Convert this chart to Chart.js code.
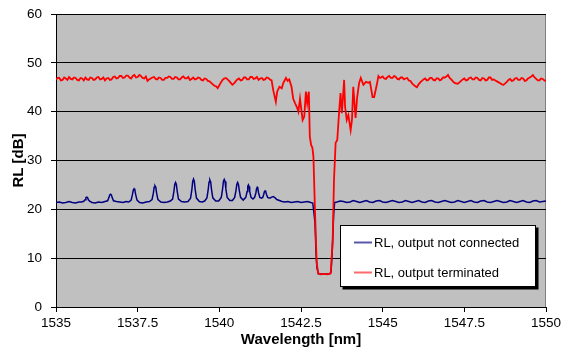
<!DOCTYPE html>
<html>
<head>
<meta charset="utf-8">
<script src="https://cdn.jsdelivr.net/npm/chart.js@4/dist/chart.umd.min.js"></script>
<style>
  html, body { margin: 0; padding: 0; background: #fff; }
  #wrap { width: 563px; height: 349px; }
</style>
</head>
<body>
<div id="wrap"><canvas id="rlChart" width="563" height="349"></canvas></div>
<script>
// series names
const seriesNames = ['RL, output not connected', 'RL, output terminated'];

// axis ticks
const xTickVals = [1535, 1537.5, 1540, 1542.5, 1545, 1547.5, 1550];
const xTickLabels = ['1535', '1537.5', '1540', '1542.5', '1545', '1547.5', '1550'];
const yTickVals = [0, 10, 20, 30, 40, 50, 60];

// RL, output terminated (red)
const redWl = [
  1535.00, 1535.05, 1535.10, 1535.15, 1535.20, 1535.25, 1535.30, 1535.35, 1535.40, 1535.45,
  1535.50, 1535.55, 1535.60, 1535.65, 1535.70, 1535.75, 1535.80, 1535.85, 1535.90, 1535.95,
  1536.00, 1536.05, 1536.10, 1536.15, 1536.20, 1536.25, 1536.30, 1536.35, 1536.40, 1536.45,
  1536.50, 1536.55, 1536.60, 1536.65, 1536.70, 1536.75, 1536.80, 1536.85, 1536.90, 1536.95,
  1537.00, 1537.05, 1537.10, 1537.15, 1537.20, 1537.25, 1537.30, 1537.35, 1537.40, 1537.45,
  1537.50, 1537.55, 1537.60, 1537.65, 1537.70, 1537.75, 1537.80, 1537.85, 1537.90, 1537.95,
  1538.00, 1538.05, 1538.10, 1538.15, 1538.20, 1538.25, 1538.30, 1538.35, 1538.40, 1538.45,
  1538.50, 1538.55, 1538.60, 1538.65, 1538.70, 1538.75, 1538.80, 1538.85, 1538.90, 1538.95,
  1539.00, 1539.05, 1539.10, 1539.15, 1539.20, 1539.25, 1539.30, 1539.35, 1539.40, 1539.45,
  1539.50, 1539.55, 1539.60, 1539.65, 1539.70, 1539.75, 1539.80, 1539.85, 1539.90, 1539.95,
  1540.00, 1540.05, 1540.10, 1540.15, 1540.20, 1540.25, 1540.30, 1540.35, 1540.40, 1540.45,
  1540.50, 1540.55, 1540.60, 1540.65, 1540.70, 1540.75, 1540.80, 1540.85, 1540.90, 1540.95,
  1541.00, 1541.05, 1541.10, 1541.15, 1541.20, 1541.25, 1541.30, 1541.35, 1541.40, 1541.45,
  1541.50, 1541.55, 1541.60,
  1541.65, 1541.73, 1541.77, 1541.84, 1541.91, 1541.96, 1542.04, 1542.09, 1542.14, 1542.21,
  1542.26, 1542.32, 1542.37, 1542.42, 1542.47, 1542.50, 1542.55, 1542.60, 1542.65, 1542.69,
  1542.74, 1542.77, 1542.81, 1542.85, 1542.88, 1542.93, 1542.98, 1543.03, 1543.10, 1543.20,
  1543.30, 1543.41, 1543.47, 1543.51, 1543.56, 1543.61, 1543.67, 1543.71, 1543.75, 1543.78,
  1543.82, 1543.85, 1543.90, 1543.95, 1544.02, 1544.06, 1544.10, 1544.13, 1544.17, 1544.22,
  1544.28, 1544.33, 1544.41, 1544.49, 1544.56, 1544.61, 1544.69, 1544.74, 1544.82, 1544.87,
  1544.92,
  1544.95, 1545.00, 1545.05, 1545.10, 1545.15, 1545.20, 1545.25, 1545.30, 1545.35, 1545.40,
  1545.45, 1545.50, 1545.55, 1545.60, 1545.65, 1545.70, 1545.75, 1545.80, 1545.85, 1545.90,
  1545.95, 1546.00, 1546.05, 1546.10, 1546.15, 1546.20, 1546.25, 1546.30, 1546.35, 1546.40,
  1546.45, 1546.50, 1546.55, 1546.60, 1546.65, 1546.70, 1546.75, 1546.80, 1546.85, 1546.90,
  1546.95, 1547.00, 1547.05, 1547.10, 1547.15, 1547.20, 1547.25, 1547.30, 1547.35, 1547.40,
  1547.45, 1547.50, 1547.55, 1547.60, 1547.65, 1547.70, 1547.75, 1547.80, 1547.85, 1547.90,
  1547.95, 1548.00, 1548.05, 1548.10, 1548.15, 1548.20, 1548.25, 1548.30, 1548.35, 1548.40,
  1548.45, 1548.50, 1548.55, 1548.60, 1548.65, 1548.70, 1548.75, 1548.80, 1548.85, 1548.90,
  1548.95, 1549.00, 1549.05, 1549.10, 1549.15, 1549.20, 1549.25, 1549.30, 1549.35, 1549.40,
  1549.45, 1549.50, 1549.55, 1549.60, 1549.65, 1549.70, 1549.75, 1549.80, 1549.85, 1549.90,
  1549.95, 1550.00
];
const redRL = [
  46.6, 46.9, 46.9, 46.4, 46.5, 47.0, 46.8, 46.5, 47.1, 46.7,
  46.6, 47.0, 46.9, 46.5, 46.4, 46.9, 46.8, 46.4, 47.0, 46.6,
  46.5, 47.0, 46.9, 46.5, 46.6, 47.0, 47.1, 46.6, 46.7, 47.0,
  46.4, 46.8, 46.9, 46.5, 46.6, 47.1, 47.2, 46.8, 46.9, 47.3,
  47.3, 46.9, 47.0, 47.4, 47.4, 47.0, 46.8, 47.3, 47.5, 47.0,
  47.1, 47.5, 47.3, 46.9, 46.8, 47.2, 46.3, 46.6, 46.8, 47.0,
  47.1, 46.7, 46.6, 47.0, 46.9, 46.5, 46.5, 46.9, 46.9, 47.2,
  47.1, 46.7, 46.7, 47.1, 47.0, 46.6, 46.6, 47.0, 47.2, 46.8,
  46.8, 47.1, 46.5, 46.7, 47.0, 46.6, 46.7, 47.0, 46.9, 46.5,
  46.4, 46.8, 46.7, 46.3, 46.2, 45.9, 45.6, 45.3, 45.2, 44.8,
  45.4, 46.0, 46.5, 46.8, 46.9, 46.6, 46.3, 45.9, 45.5, 45.8,
  46.2, 46.6, 46.8, 46.4, 46.5, 47.0, 47.0, 46.6, 46.6, 47.1,
  47.1, 46.7, 46.8, 47.1, 46.5, 46.8, 46.9, 46.5, 46.6, 47.0,
  46.9, 46.6, 46.4,
  44.4, 42.0, 44.1, 45.1, 44.8, 45.9, 46.9, 46.3, 46.6, 45.1,
  42.7, 41.7, 41.0, 40.0, 42.7, 41.0, 38.3, 39.0, 44.1, 41.7,
  44.1, 34.9, 33.2, 32.6, 30.8, 19.3, 9.0, 6.9, 6.7, 6.8,
  6.7, 6.9, 13.7, 26.0, 33.6, 34.2, 40.3, 43.8, 39.7, 42.4,
  46.5, 41.0, 38.3, 39.3, 36.2, 38.3, 45.1, 42.4, 38.7, 43.0,
  45.9, 46.9, 45.5, 46.1, 45.9, 46.1, 43.0, 43.0, 45.5, 47.3,
  46.9,
  47.0, 47.2, 46.8, 46.7, 47.1, 47.3, 46.9, 46.9, 47.3, 47.1,
  46.7, 46.6, 47.0, 47.0, 46.6, 46.8, 46.9, 46.4, 46.3, 45.8,
  45.5, 45.2, 45.0, 45.6, 46.0, 46.3, 46.6, 46.8, 46.4, 46.5,
  46.9, 46.9, 46.5, 46.4, 46.8, 46.8, 46.4, 46.6, 47.0, 47.0,
  47.2, 47.5, 46.9, 46.6, 46.2, 45.9, 45.8, 45.7, 46.0, 46.3,
  46.6, 46.8, 46.4, 46.5, 46.9, 47.0, 46.6, 46.6, 47.0, 46.9,
  46.5, 46.4, 46.9, 46.8, 46.4, 46.5, 47.0, 47.0, 46.5, 46.6,
  46.4, 46.2, 46.0, 45.8, 45.6, 45.5, 45.8, 46.1, 46.5, 46.7,
  46.3, 46.4, 46.8, 46.9, 46.5, 46.5, 46.9, 46.8, 46.3, 46.4,
  46.8, 47.0, 47.2, 47.5, 47.0, 46.7, 46.4, 46.4, 46.8, 46.7,
  46.4, 46.3
];

// RL, output not connected (blue) - one line per stretch / peak
const blueWl = [
  1535.0, 1535.1, 1535.2, 1535.3, 1535.4, 1535.5, 1535.6, 1535.7, 1535.78,
  1535.85, 1535.89, 1535.915, 1535.94, 1535.965, 1535.99, 1536.03,
  1536.1, 1536.2, 1536.3, 1536.4, 1536.5,
  1536.58, 1536.62, 1536.645, 1536.67, 1536.695, 1536.72, 1536.76,
  1536.85, 1536.95, 1537.05, 1537.15, 1537.23,
  1537.30, 1537.34, 1537.365, 1537.39, 1537.415, 1537.44, 1537.48,
  1537.56, 1537.66, 1537.76, 1537.86,
  1537.94, 1537.98, 1538.005, 1538.03, 1538.055, 1538.08, 1538.12,
  1538.21, 1538.31, 1538.41, 1538.5,
  1538.57, 1538.61, 1538.635, 1538.66, 1538.685, 1538.71, 1538.75,
  1538.84, 1538.94, 1539.04,
  1539.12, 1539.16, 1539.185, 1539.21, 1539.235, 1539.26, 1539.30,
  1539.39, 1539.48, 1539.55,
  1539.62, 1539.66, 1539.685, 1539.71, 1539.735, 1539.76, 1539.80,
  1539.89, 1539.98,
  1540.06, 1540.10, 1540.125, 1540.15, 1540.175, 1540.20, 1540.24,
  1540.32, 1540.40,
  1540.47, 1540.51, 1540.535, 1540.56, 1540.585, 1540.61, 1540.65,
  1540.73,
  1540.81, 1540.85, 1540.87, 1540.89, 1540.91, 1540.93, 1540.97,
  1541.03,
  1541.08, 1541.12, 1541.14, 1541.16, 1541.18, 1541.20, 1541.24,
  1541.29,
  1541.33, 1541.36, 1541.38, 1541.40, 1541.42, 1541.44, 1541.48,
  1541.52, 1541.56, 1541.60, 1541.65, 1541.70, 1541.76, 1541.84, 1541.92,
  1542.0, 1542.1, 1542.2, 1542.3, 1542.4, 1542.5, 1542.6, 1542.7, 1542.8, 1542.86,
  1542.9, 1542.93, 1542.96, 1542.99, 1543.03, 1543.2, 1543.38, 1543.42, 1543.46, 1543.5, 1543.53,
  1543.6, 1543.7, 1543.8, 1543.9, 1544.0, 1544.1, 1544.2, 1544.3, 1544.4, 1544.5,
  1544.6, 1544.7, 1544.8, 1544.9, 1545.0, 1545.1, 1545.2, 1545.3, 1545.4, 1545.5,
  1545.6, 1545.7, 1545.8, 1545.9, 1546.0, 1546.1, 1546.2, 1546.3, 1546.4, 1546.5,
  1546.6, 1546.7, 1546.8, 1546.9, 1547.0, 1547.1, 1547.2, 1547.3, 1547.4, 1547.5,
  1547.6, 1547.7, 1547.8, 1547.9, 1548.0, 1548.1, 1548.2, 1548.3, 1548.4, 1548.5,
  1548.6, 1548.7, 1548.8, 1548.9, 1549.0, 1549.1, 1549.2, 1549.3, 1549.4, 1549.5,
  1549.6, 1549.7, 1549.8, 1549.9, 1550.0
];
const blueRL = [
  21.4, 21.5, 21.3, 21.4, 21.6, 21.4, 21.3, 21.5, 21.5,
  21.65, 21.95, 22.4, 22.5, 22.4, 21.95, 21.65,
  21.4, 21.3, 21.5, 21.4, 21.6,
  21.75, 22.4, 22.95, 23.1, 22.95, 22.4, 21.75,
  21.6, 21.5, 21.4, 21.6, 21.5,
  21.9, 23.0, 23.9, 24.2, 23.9, 23.0, 21.9,
  21.4, 21.3, 21.5, 21.6,
  22.0, 23.3, 24.5, 24.8, 24.5, 23.3, 22.0,
  21.5, 21.4, 21.5, 21.7,
  22.1, 23.7, 25.1, 25.5, 25.1, 23.7, 22.1,
  21.6, 21.5, 21.6,
  22.3, 24.1, 25.7, 26.2, 25.7, 24.1, 22.3,
  21.6, 21.5, 21.7,
  22.35, 24.1, 25.6, 26.0, 25.6, 24.1, 22.35,
  21.7, 21.7,
  22.45, 24.2, 25.7, 26.1, 25.7, 24.2, 22.45,
  21.8, 21.8,
  22.45, 23.9, 25.1, 25.5, 25.1, 23.9, 22.45,
  21.9,
  22.45, 23.65, 24.7, 25.0, 24.7, 23.65, 22.45,
  22.1,
  22.45, 23.4, 24.25, 24.5, 24.25, 23.4, 22.45,
  22.3,
  22.45, 23.1, 23.65, 23.8, 23.65, 23.1, 22.45,
  22.3, 22.3, 22.5, 22.6, 22.4, 22.0, 21.8, 21.6,
  21.5, 21.6, 21.4, 21.5, 21.6, 21.4, 21.5, 21.6, 21.4, 21.3,
  19.0, 17.2, 11.0, 8.0, 6.8, 6.7, 6.8, 7.2, 12.0, 19.0, 21.4,
  21.5, 21.7, 21.6, 21.4, 21.5, 21.8, 21.6, 21.4, 21.6, 21.8,
  21.5, 21.4, 21.7, 21.8, 21.5, 21.4, 21.6, 21.8, 21.6, 21.4,
  21.5, 21.8, 21.6, 21.4, 21.6, 21.8, 21.5, 21.4, 21.7, 21.8,
  21.5, 21.4, 21.6, 21.8, 21.6, 21.4, 21.5, 21.8, 21.6, 21.4,
  21.6, 21.8, 21.5, 21.4, 21.7, 21.8, 21.5, 21.4, 21.6, 21.8,
  21.6, 21.4, 21.5, 21.8, 21.6, 21.4, 21.6, 21.8, 21.5, 21.4,
  21.7, 21.8, 21.5, 21.6, 21.7
];

const blueColor = '#000080';
const redColor = '#ff0000';

function toPoints(xs, ys) {
  return xs.map((x, i) => ({ x: x, y: ys[i] }));
}

// gray plot area + Excel style legend box
const plotBackground = {
  id: 'plotBackground',
  beforeDraw(chart) {
    const { ctx, chartArea: a } = chart;
    ctx.save();
    ctx.fillStyle = '#c0c0c0';
    ctx.fillRect(a.left, a.top, a.right - a.left, a.bottom - a.top);
    ctx.strokeStyle = '#808080';
    ctx.lineWidth = 1;
    ctx.strokeRect(a.left + 0.5, a.top + 0.5, a.right - a.left - 1, a.bottom - a.top);
    ctx.restore();
  },
  afterDraw(chart) {
    const ctx = chart.ctx;
    const bx = 340.5, by = 225.5, bw = 195, bh = 61;
    ctx.save();
    ctx.fillStyle = '#000';
    ctx.fillRect(bx + 2, by + 2, bw + 1, bh + 1);
    ctx.fillStyle = '#fff';
    ctx.fillRect(bx, by, bw, bh);
    ctx.strokeStyle = '#000';
    ctx.lineWidth = 1;
    ctx.strokeRect(bx, by, bw, bh);

    const rows = [
      { label: seriesNames[0], color: '#5858a8', y: 242.5 },
      { label: seriesNames[1], color: '#ff6a6a', y: 272.5 }
    ];
    ctx.font = '13px "Liberation Sans", Arial, sans-serif';
    ctx.textBaseline = 'middle';
    rows.forEach(r => {
      ctx.strokeStyle = r.color;
      ctx.lineWidth = 2;
      ctx.beginPath();
      ctx.moveTo(354, r.y);
      ctx.lineTo(372, r.y);
      ctx.stroke();
      ctx.fillStyle = '#000';
      ctx.fillText(r.label, 374, r.y + 0.5);
    });
    ctx.restore();
  }
};

const ctx = document.getElementById('rlChart').getContext('2d');
new Chart(ctx, {
  type: 'line',
  data: {
    datasets: [
      {
        label: seriesNames[1],
        data: toPoints(redWl, redRL),
        borderColor: redColor,
        borderWidth: 1.8,
        pointRadius: 0,
        tension: 0,
        fill: false
      },
      {
        label: seriesNames[0],
        data: toPoints(blueWl, blueRL),
        borderColor: blueColor,
        borderWidth: 1.5,
        pointRadius: 0,
        tension: 0,
        fill: false
      }
    ]
  },
  options: {
    responsive: false,
    animation: false,
    layout: { padding: { top: 14, right: 17, left: 0, bottom: 0 } },
    plugins: {
      legend: { display: false },
      tooltip: { enabled: false }
    },
    scales: {
      x: {
        type: 'linear',
        min: 1535,
        max: 1550,
        afterBuildTicks: (scale) => {
          scale.ticks = xTickVals.map(v => ({ value: v }));
        },
        afterFit: (scale) => {
          scale.height = 42;
          scale.paddingLeft = 0;
          scale.paddingRight = 0;
        },
        ticks: {
          autoSkip: false,
          maxRotation: 0,
          padding: 3,
          color: '#000',
          font: { family: '"Liberation Sans", Arial, sans-serif', size: 13.5 },
          callback: (v) => xTickLabels[xTickVals.indexOf(v)]
        },
        grid: {
          drawOnChartArea: false,
          drawTicks: true,
          tickLength: 5,
          color: '#000'
        },
        border: { display: true, color: '#000', width: 1 },
        title: {
          display: true,
          text: 'Wavelength [nm]',
          color: '#000',
          font: { family: '"Liberation Sans", Arial, sans-serif', size: 15, weight: 'bold' },
          padding: { top: 0, bottom: 0 }
        }
      },
      y: {
        min: 0,
        max: 60,
        afterBuildTicks: (scale) => {
          scale.ticks = yTickVals.map(v => ({ value: v }));
        },
        afterFit: (scale) => {
          scale.width = 56;
          scale.paddingTop = 0;
          scale.paddingBottom = 0;
        },
        ticks: {
          padding: 9,
          color: '#000',
          font: { family: '"Liberation Sans", Arial, sans-serif', size: 13.5 },
          callback: (v) => String(v)
        },
        grid: {
          color: '#000',
          lineWidth: 1,
          drawTicks: true,
          tickLength: 5
        },
        border: { display: true, color: '#000', width: 1 },
        title: {
          display: true,
          text: 'RL [dB]',
          color: '#000',
          font: { family: '"Liberation Sans", Arial, sans-serif', size: 15, weight: 'bold' },
          padding: { top: 10, bottom: 0 }
        }
      }
    }
  },
  plugins: [plotBackground]
});
</script>
</body>
</html>
